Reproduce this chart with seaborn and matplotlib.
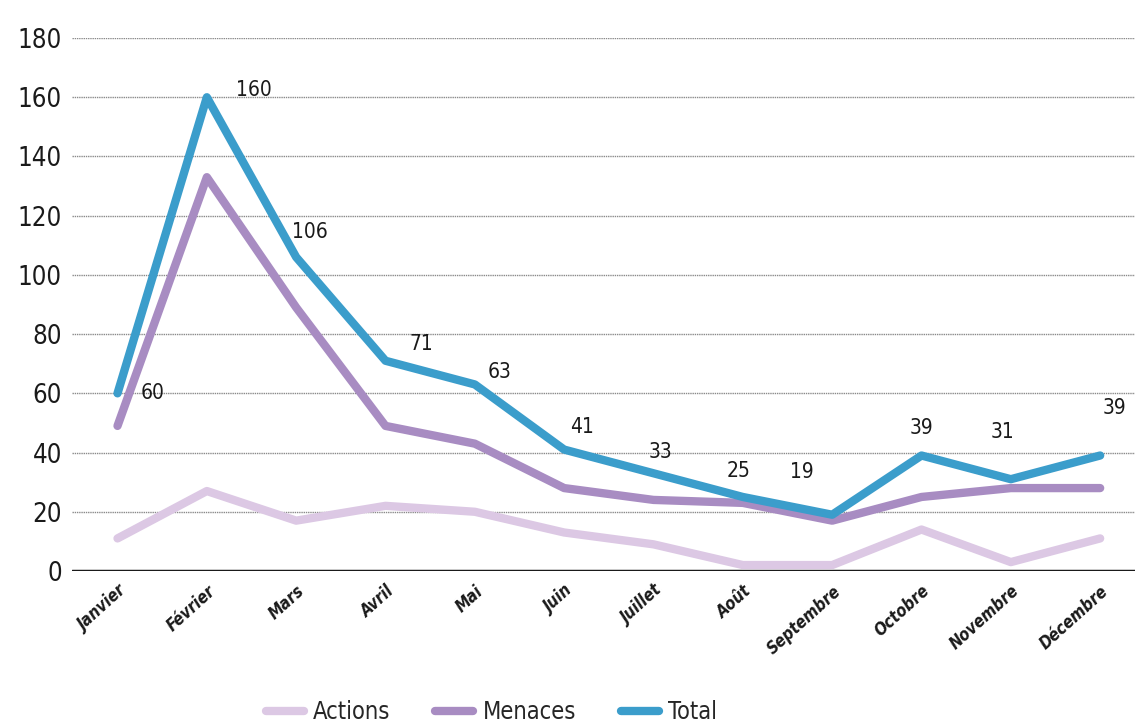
import pandas as pd
import matplotlib.pyplot as plt
import seaborn as sns

# monthly counts
months = ['Janvier', 'Février', 'Mars', 'Avril', 'Mai', 'Juin', 'Juillet',
          'Août', 'Septembre', 'Octobre', 'Novembre', 'Décembre']
actions = [11, 27, 17, 22, 20, 13, 9, 2, 2, 14, 3, 11]
menaces = [49, 133, 89, 49, 43, 28, 24, 23, 17, 25, 28, 28]
total = [60, 160, 106, 71, 63, 41, 33, 25, 19, 39, 31, 39]
y_ticks = [0, 20, 40, 60, 80, 100, 120, 140, 160, 180]

# label offsets (points) for the Total values
label_offsets = [(25, 0), (34, 5), (10, 18), (26, 12), (18, 9), (13, 16),
                 (5, 15), (-3, 19), (-22, 31), (0, 20), (-6, 34), (10, 34)]

colors = {'Actions': '#dcc8e4', 'Menaces': '#a88cc2', 'Total': '#3b9dcb'}

sns.set_theme(style='white')
# condensed face, closer to the narrow print font
plt.rcParams['font.family'] = ['DejaVu Sans']
plt.rcParams['font.stretch'] = 'condensed'

df = pd.DataFrame({'Mois': months, 'Actions': actions,
                   'Menaces': menaces, 'Total': total})
long_df = df.melt(id_vars='Mois', var_name='Série', value_name='Valeur')

fig = plt.figure(figsize=(11.35, 7.27), dpi=100)
ax = fig.add_axes([0.063, 0.2146, 0.937, 0.7331])

sns.lineplot(data=long_df, x='Mois', y='Valeur', hue='Série',
             palette=colors, linewidth=6, sort=False, ax=ax,
             solid_capstyle='round', legend=True)

ax.set_ylim(0, 180)
ax.set_xlim(-0.515, 11.39)
ax.set_yticks(y_ticks)
ax.yaxis.grid(True, color='#8a8a8a', linewidth=1.0, linestyle=(0, (1, 0.6)))
ax.set_axisbelow(True)
ax.axhline(0, color='#1a1a1a', linewidth=2.5, zorder=1)
for s in ax.spines.values():
    s.set_visible(False)

ax.set_xlabel('')
ax.set_ylabel('')
ax.tick_params(axis='y', labelsize=18.5, length=0, pad=7, colors='#1a1a1a')
ax.tick_params(axis='x', labelsize=12, length=0, pad=8, colors='#1a1a1a')
for lab in ax.get_xticklabels():
    lab.set_rotation(42)
    lab.set_ha('right')
    lab.set_rotation_mode('anchor')
    lab.set_fontweight('bold')
    lab.set_fontstyle('italic')

for i, v in enumerate(total):
    ax.annotate(str(v), (i, v), xytext=label_offsets[i], textcoords='offset points',
                ha='center', va='center', fontsize=15, color='#1a1a1a')

handles, labels = ax.get_legend_handles_labels()
ax.legend(handles, labels, loc='center', bbox_to_anchor=(0.395, -0.265),
          ncol=3, frameon=False, fontsize=17, columnspacing=1.9,
          handlelength=1.6, handletextpad=0.4)

fig.savefig('out.png', dpi=100, facecolor='white')
